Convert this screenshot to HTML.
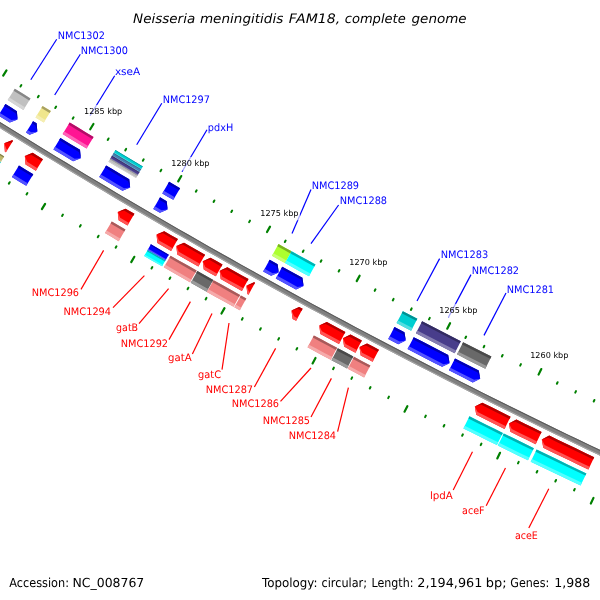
<!DOCTYPE html>
<html><head><meta charset="utf-8"><title>Neisseria meningitidis FAM18, complete genome</title>
<style>html,body{margin:0;padding:0;background:#fff}svg{display:block;will-change:transform}text{font-family:"DejaVu Sans","Liberation Sans",sans-serif;text-rendering:geometricPrecision}</style>
</head><body>
<svg width="600" height="600" viewBox="0 0 600 600">
<rect width="600" height="600" fill="#FFFFFF"/>
<polygon points="-25.39,106.04 -15.32,112.38 -5.23,118.69 4.87,124.99 14.98,131.27 25.10,137.52 35.24,143.76 45.38,149.97 55.54,156.16 65.72,162.34 75.90,168.49 86.10,174.63 96.31,180.74 106.53,186.83 116.76,192.91 127.01,198.96 137.26,204.99 147.53,211.00 157.82,216.99 168.11,222.96 178.41,228.91 188.73,234.84 199.06,240.75 209.40,246.64 219.75,252.51 230.12,258.35 240.49,264.18 250.88,269.98 261.28,275.77 271.69,281.53 282.11,287.28 292.54,293.00 302.99,298.70 313.44,304.38 323.91,310.04 334.39,315.68 344.88,321.30 355.38,326.90 365.89,332.47 376.42,338.03 386.95,343.57 397.50,349.08 408.05,354.57 418.62,360.04 429.20,365.49 439.78,370.92 450.38,376.33 460.99,381.72 471.62,387.09 482.25,392.43 492.89,397.75 503.54,403.06 514.21,408.34 524.88,413.60 535.56,418.84 546.26,424.05 556.96,429.25 567.68,434.43 578.40,439.58 589.14,444.71 599.89,449.82 610.64,454.91 621.41,459.98 632.19,465.03 629.99,469.74 619.20,464.69 608.42,459.61 597.66,454.52 586.90,449.40 576.16,444.27 565.42,439.11 554.70,433.93 543.98,428.73 533.28,423.51 522.59,418.26 511.90,413.00 501.23,407.71 490.57,402.41 479.92,397.08 469.28,391.73 458.64,386.36 448.03,380.97 437.42,375.55 426.82,370.12 416.23,364.66 405.66,359.19 395.09,353.69 384.54,348.17 373.99,342.63 363.46,337.07 352.94,331.49 342.43,325.89 331.93,320.26 321.44,314.62 310.97,308.95 300.50,303.27 290.05,297.56 279.61,291.83 269.18,286.09 258.76,280.32 248.35,274.53 237.95,268.72 227.57,262.88 217.19,257.03 206.83,251.16 196.48,245.27 186.14,239.35 175.82,233.42 165.50,227.46 155.20,221.49 144.91,215.49 134.63,209.47 124.37,203.44 114.11,197.38 103.87,191.30 93.64,185.20 83.42,179.09 73.22,172.95 63.02,166.79 52.84,160.61 42.67,154.41 32.52,148.19 22.37,141.95 12.24,135.69 2.12,129.41 -7.99,123.10 -18.08,116.78 -28.16,110.44" fill="#808080"/>
<polygon points="-25.39,106.04 -15.32,112.38 -5.23,118.69 4.87,124.99 14.98,131.27 25.10,137.52 35.24,143.76 45.38,149.97 55.54,156.16 65.72,162.34 75.90,168.49 86.10,174.63 96.31,180.74 106.53,186.83 116.76,192.91 127.01,198.96 137.26,204.99 147.53,211.00 157.82,216.99 168.11,222.96 178.41,228.91 188.73,234.84 199.06,240.75 209.40,246.64 219.75,252.51 230.12,258.35 240.49,264.18 250.88,269.98 261.28,275.77 271.69,281.53 282.11,287.28 292.54,293.00 302.99,298.70 313.44,304.38 323.91,310.04 334.39,315.68 344.88,321.30 355.38,326.90 365.89,332.47 376.42,338.03 386.95,343.57 397.50,349.08 408.05,354.57 418.62,360.04 429.20,365.49 439.78,370.92 450.38,376.33 460.99,381.72 471.62,387.09 482.25,392.43 492.89,397.75 503.54,403.06 514.21,408.34 524.88,413.60 535.56,418.84 546.26,424.05 556.96,429.25 567.68,434.43 578.40,439.58 589.14,444.71 599.89,449.82 610.64,454.91 621.41,459.98 632.19,465.03 631.76,465.93 620.98,460.88 610.22,455.82 599.46,450.73 588.71,445.61 577.97,440.48 567.25,435.33 556.53,430.15 545.82,424.95 535.12,419.74 524.44,414.50 513.76,409.23 503.10,403.95 492.44,398.65 481.80,393.32 471.17,387.98 460.54,382.61 449.93,377.22 439.33,371.81 428.74,366.38 418.16,360.93 407.59,355.46 397.03,349.97 386.49,344.45 375.95,338.92 365.43,333.36 354.91,327.78 344.41,322.18 333.92,316.56 323.44,310.92 312.97,305.26 302.51,299.58 292.06,293.88 281.63,288.15 271.21,282.41 260.79,276.64 250.39,270.86 240.00,265.05 229.63,259.22 219.26,253.38 208.91,247.51 198.56,241.62 188.23,235.71 177.92,229.78 167.61,223.83 157.31,217.86 147.03,211.86 136.76,205.85 126.50,199.82 116.25,193.77 106.02,187.69 95.79,181.60 85.58,175.48 75.38,169.35 65.20,163.19 55.02,157.02 44.86,150.82 34.71,144.61 24.58,138.37 14.45,132.12 4.34,125.84 -5.76,119.54 -15.85,113.23 -25.92,106.89" fill="#595959"/>
<polygon points="-27.58,109.51 -17.50,115.85 -7.40,122.17 2.70,128.47 12.82,134.75 22.95,141.01 33.09,147.25 43.25,153.47 53.41,159.67 63.59,165.85 73.78,172.00 83.99,178.14 94.20,184.26 104.43,190.36 114.67,196.43 124.93,202.49 135.19,208.53 145.47,214.54 155.75,220.54 166.06,226.51 176.37,232.46 186.69,238.40 197.03,244.31 207.38,250.20 217.74,256.07 228.11,261.93 238.49,267.76 248.88,273.57 259.29,279.35 269.71,285.12 280.14,290.87 290.58,296.60 301.03,302.30 311.49,307.99 321.97,313.65 332.45,319.29 342.95,324.92 353.46,330.52 363.98,336.10 374.51,341.66 385.05,347.20 395.60,352.71 406.16,358.21 416.74,363.69 427.32,369.14 437.92,374.57 448.52,379.99 459.14,385.38 469.77,390.75 480.41,396.10 491.06,401.42 501.72,406.73 512.39,412.01 523.07,417.28 533.76,422.52 544.46,427.74 555.18,432.94 565.90,438.12 576.63,443.28 587.38,448.41 598.13,453.53 608.89,458.62 619.67,463.69 630.45,468.74 629.99,469.74 619.20,464.69 608.42,459.61 597.66,454.52 586.90,449.40 576.16,444.27 565.42,439.11 554.70,433.93 543.98,428.73 533.28,423.51 522.59,418.26 511.90,413.00 501.23,407.71 490.57,402.41 479.92,397.08 469.28,391.73 458.64,386.36 448.03,380.97 437.42,375.55 426.82,370.12 416.23,364.66 405.66,359.19 395.09,353.69 384.54,348.17 373.99,342.63 363.46,337.07 352.94,331.49 342.43,325.89 331.93,320.26 321.44,314.62 310.97,308.95 300.50,303.27 290.05,297.56 279.61,291.83 269.18,286.09 258.76,280.32 248.35,274.53 237.95,268.72 227.57,262.88 217.19,257.03 206.83,251.16 196.48,245.27 186.14,239.35 175.82,233.42 165.50,227.46 155.20,221.49 144.91,215.49 134.63,209.47 124.37,203.44 114.11,197.38 103.87,191.30 93.64,185.20 83.42,179.09 73.22,172.95 63.02,166.79 52.84,160.61 42.67,154.41 32.52,148.19 22.37,141.95 12.24,135.69 2.12,129.41 -7.99,123.10 -18.08,116.78 -28.16,110.44" fill="#A6A6A6"/>
<polygon points="5.45,104.03 11.16,107.59 16.87,111.14 17.57,119.46 9.80,122.52 4.07,118.96 -1.65,115.39" fill="#0000FF"/>
<polygon points="5.45,104.03 11.16,107.59 16.87,111.14 17.57,119.46 15.60,113.18 9.89,109.62 4.18,106.06" fill="#0000B2"/>
<polygon points="-1.65,115.39 4.07,118.96 9.80,122.52 17.57,119.46 11.38,119.97 5.66,116.41 -0.06,112.85" fill="#5454FF"/>
<polygon points="33.05,121.16 36.61,123.36 37.35,131.67 29.59,134.77 26.02,132.56" fill="#0000FF"/>
<polygon points="33.05,121.16 36.61,123.36 37.35,131.67 35.36,125.40 31.79,123.20" fill="#0000B2"/>
<polygon points="26.02,132.56 29.59,134.77 37.35,131.67 31.16,132.21 27.59,130.01" fill="#5454FF"/>
<polygon points="60.41,137.93 70.20,143.89 80.00,149.83 80.81,158.14 73.07,161.29 63.25,155.35 53.43,149.38" fill="#0000FF"/>
<polygon points="60.41,137.93 70.20,143.89 80.00,149.83 80.81,158.14 78.76,151.88 68.95,145.94 59.16,139.98" fill="#0000B2"/>
<polygon points="53.43,149.38 63.25,155.35 73.07,161.29 80.81,158.14 74.62,158.73 64.80,152.78 54.99,146.81" fill="#5454FF"/>
<polygon points="106.14,165.53 113.84,170.12 121.55,174.71 129.27,179.28 130.16,187.58 122.45,190.81 114.72,186.23 106.99,181.64 99.27,177.03" fill="#0000FF"/>
<polygon points="106.14,165.53 113.84,170.12 121.55,174.71 129.27,179.28 130.16,187.58 128.05,181.34 120.33,176.77 112.62,172.19 104.91,167.59" fill="#0000B2"/>
<polygon points="99.27,177.03 106.99,181.64 114.72,186.23 122.45,190.81 130.16,187.58 123.98,188.23 116.25,183.65 108.52,179.06 100.81,174.46" fill="#5454FF"/>
<polygon points="160.04,197.34 166.67,201.20 167.61,209.50 159.93,212.79 153.29,208.92" fill="#0000FF"/>
<polygon points="160.04,197.34 166.67,201.20 167.61,209.50 165.46,203.28 158.83,199.41" fill="#0000B2"/>
<polygon points="153.29,208.92 159.93,212.79 167.61,209.50 161.44,210.19 154.80,206.32" fill="#5454FF"/>
<polygon points="269.69,259.73 277.62,264.13 278.74,272.40 271.13,275.86 263.18,271.45" fill="#0000FF"/>
<polygon points="269.69,259.73 277.62,264.13 278.74,272.40 276.46,266.23 268.52,261.83" fill="#0000B2"/>
<polygon points="263.18,271.45 271.13,275.86 278.74,272.40 272.58,273.23 264.64,268.83" fill="#5454FF"/>
<polygon points="282.24,266.68 292.32,272.24 302.42,277.77 303.58,286.04 295.99,289.52 285.87,283.98 275.76,278.42" fill="#0000FF"/>
<polygon points="282.24,266.68 292.32,272.24 302.42,277.77 303.58,286.04 301.26,279.87 291.17,274.34 281.08,268.78" fill="#0000B2"/>
<polygon points="275.76,278.42 285.87,283.98 295.99,289.52 303.58,286.04 297.43,286.89 287.31,281.35 277.21,275.79" fill="#5454FF"/>
<polygon points="394.48,327.08 404.46,332.30 405.78,340.54 398.26,344.17 388.26,338.94" fill="#0000FF"/>
<polygon points="394.48,327.08 404.46,332.30 405.78,340.54 403.35,334.42 393.36,329.20" fill="#0000B2"/>
<polygon points="388.26,338.94 398.26,344.17 405.78,340.54 399.64,341.52 389.65,336.29" fill="#5454FF"/>
<polygon points="413.74,337.13 422.34,341.59 430.95,346.04 439.57,350.47 448.19,354.89 449.58,363.13 442.09,366.82 433.45,362.39 424.81,357.95 416.18,353.49 407.56,349.02" fill="#0000FF"/>
<polygon points="413.74,337.13 422.34,341.59 430.95,346.04 439.57,350.47 448.19,354.89 449.58,363.13 447.10,357.03 438.47,352.61 429.85,348.17 421.24,343.72 412.63,339.26" fill="#0000B2"/>
<polygon points="407.56,349.02 416.18,353.49 424.81,357.95 433.45,362.39 442.09,366.82 449.58,363.13 443.46,364.15 434.82,359.72 426.18,355.28 417.56,350.83 408.94,346.36" fill="#5454FF"/>
<polygon points="455.03,358.38 462.93,362.41 470.84,366.42 478.76,370.42 480.20,378.64 472.72,382.38 464.79,378.37 456.86,374.35 448.94,370.32" fill="#0000FF"/>
<polygon points="455.03,358.38 462.93,362.41 470.84,366.42 478.76,370.42 480.20,378.64 477.68,372.56 469.76,368.56 461.84,364.55 453.94,360.52" fill="#0000B2"/>
<polygon points="448.94,370.32 456.86,374.35 464.79,378.37 472.72,382.38 480.20,378.64 474.07,379.70 466.14,375.70 458.22,371.68 450.30,367.65" fill="#5454FF"/>
<polygon points="14.82,88.65 22.66,93.54 30.51,98.42 23.39,109.89 15.52,105.00 7.67,100.10" fill="#C0C0C0"/>
<polygon points="14.82,88.65 22.66,93.54 30.51,98.42 29.23,100.47 21.38,95.59 13.54,90.70" fill="#868686"/>
<polygon points="9.27,97.54 17.12,102.44 24.98,107.32 23.39,109.89 15.52,105.00 7.67,100.10" fill="#D5D5D5"/>
<polygon points="42.59,105.89 50.88,111.00 43.81,122.50 35.50,117.38" fill="#F0E68C"/>
<polygon points="42.59,105.89 50.88,111.00 49.61,113.06 41.32,107.95" fill="#A8A162"/>
<polygon points="37.09,114.81 45.39,119.92 43.81,122.50 35.50,117.38" fill="#F5EEB2"/>
<polygon points="69.69,122.51 77.64,127.35 85.60,132.18 93.56,136.99 86.59,148.55 78.61,143.72 70.63,138.89 62.66,134.04" fill="#FF1493"/>
<polygon points="69.69,122.51 77.64,127.35 85.60,132.18 93.56,136.99 92.31,139.06 84.35,134.24 76.38,129.42 68.43,124.58" fill="#B20E67"/>
<polygon points="64.24,131.46 72.20,136.31 80.17,141.14 88.15,145.96 86.59,148.55 78.61,143.72 70.63,138.89 62.66,134.04" fill="#FF62B7"/>
<polygon points="115.37,150.08 124.53,155.54 133.70,160.98 142.88,166.41 141.16,169.31 131.98,163.88 122.80,158.44 113.64,152.97" fill="#00CED1"/>
<polygon points="115.37,150.08 124.53,155.54 133.70,160.98 142.88,166.41 142.57,166.93 133.39,161.50 124.22,156.06 115.06,150.60" fill="#009092"/>
<polygon points="114.03,152.33 123.19,157.79 132.36,163.23 141.55,168.66 141.16,169.31 131.98,163.88 122.80,158.44 113.64,152.97" fill="#54DEE0"/>
<polygon points="113.64,152.97 122.80,158.44 131.98,163.88 141.16,169.31 139.45,172.22 130.26,166.79 121.08,161.34 111.91,155.87" fill="#4682B4"/>
<polygon points="113.64,152.97 122.80,158.44 131.98,163.88 141.16,169.31 140.86,169.84 131.67,164.40 122.50,158.96 113.33,153.49" fill="#315B7E"/>
<polygon points="112.30,155.22 121.47,160.69 130.64,166.14 139.83,171.57 139.45,172.22 130.26,166.79 121.08,161.34 111.91,155.87" fill="#83ABCD"/>
<polygon points="111.91,155.87 121.08,161.34 130.26,166.79 139.45,172.22 137.73,175.13 128.54,169.69 119.35,164.24 110.18,158.77" fill="#483D8B"/>
<polygon points="111.91,155.87 121.08,161.34 130.26,166.79 139.45,172.22 139.14,172.74 129.95,167.31 120.77,161.86 111.60,156.39" fill="#322B61"/>
<polygon points="110.57,158.12 119.74,163.59 128.92,169.04 138.12,174.48 137.73,175.13 128.54,169.69 119.35,164.24 110.18,158.77" fill="#847DB1"/>
<polygon points="110.18,158.77 119.35,164.24 128.54,169.69 137.73,175.13 136.02,178.04 126.82,172.60 117.63,167.14 108.45,161.67" fill="#C0C0C0"/>
<polygon points="110.18,158.77 119.35,164.24 128.54,169.69 137.73,175.13 137.43,175.65 128.23,170.21 119.04,164.76 109.87,159.29" fill="#868686"/>
<polygon points="108.83,161.02 118.01,166.49 127.20,171.95 136.40,177.38 136.02,178.04 126.82,172.60 117.63,167.14 108.45,161.67" fill="#D5D5D5"/>
<polygon points="169.10,181.79 174.60,184.99 180.10,188.18 173.32,199.86 167.81,196.66 162.30,193.45" fill="#0000FF"/>
<polygon points="169.10,181.79 174.60,184.99 180.10,188.18 178.88,190.28 173.38,187.08 167.88,183.88" fill="#0000B2"/>
<polygon points="163.82,190.84 169.33,194.05 174.84,197.25 173.32,199.86 167.81,196.66 162.30,193.45" fill="#5454FF"/>
<polygon points="278.51,244.04 285.03,247.66 291.55,251.26 285.02,263.08 278.49,259.47 271.96,255.85" fill="#ADFF2F"/>
<polygon points="278.51,244.04 285.03,247.66 291.55,251.26 290.38,253.38 283.85,249.77 277.33,246.16" fill="#79B221"/>
<polygon points="273.42,253.21 279.95,256.82 286.49,260.43 285.02,263.08 278.49,259.47 271.96,255.85" fill="#C8FF74"/>
<polygon points="291.55,251.26 299.52,255.65 307.51,260.04 315.50,264.41 309.03,276.26 301.02,271.88 293.02,267.48 285.02,263.08" fill="#00FFFF"/>
<polygon points="291.55,251.26 299.52,255.65 307.51,260.04 315.50,264.41 314.34,266.53 306.35,262.16 298.36,257.77 290.38,253.38" fill="#00B2B2"/>
<polygon points="286.49,260.43 294.48,264.84 302.47,269.23 310.48,273.60 309.03,276.26 301.02,271.88 293.02,267.48 285.02,263.08" fill="#54FFFF"/>
<polygon points="402.84,311.13 410.10,314.94 417.37,318.73 411.13,330.70 403.85,326.90 396.57,323.09" fill="#00CED1"/>
<polygon points="402.84,311.13 410.10,314.94 417.37,318.73 416.25,320.87 408.98,317.08 401.71,313.28" fill="#009092"/>
<polygon points="397.97,320.41 405.25,324.22 412.53,328.02 411.13,330.70 403.85,326.90 396.57,323.09" fill="#54DEE0"/>
<polygon points="422.13,321.20 431.78,326.21 441.45,331.20 451.13,336.17 460.81,341.13 454.67,353.15 444.97,348.19 435.27,343.20 425.58,338.20 415.90,333.18" fill="#483D8B"/>
<polygon points="422.13,321.20 431.78,326.21 441.45,331.20 451.13,336.17 460.81,341.13 459.71,343.28 450.02,338.32 440.34,333.35 430.67,328.36 421.01,323.35" fill="#322B61"/>
<polygon points="417.29,330.50 426.97,335.52 436.65,340.52 446.35,345.50 456.05,350.46 454.67,353.15 444.97,348.19 435.27,343.20 425.58,338.20 415.90,333.18" fill="#847DB1"/>
<polygon points="463.11,342.30 472.53,347.09 481.95,351.87 491.39,356.62 485.32,368.68 475.86,363.91 466.42,359.13 456.98,354.33" fill="#696969"/>
<polygon points="463.11,342.30 472.53,347.09 481.95,351.87 491.39,356.62 490.30,358.78 480.86,354.02 471.43,349.25 462.02,344.46" fill="#4A4A4A"/>
<polygon points="458.35,351.64 467.79,356.44 477.23,361.22 486.68,365.98 485.32,368.68 475.86,363.91 466.42,359.13 456.98,354.33" fill="#9A9A9A"/>
<polygon points="13.06,140.78 12.04,140.15 4.20,143.30 4.89,151.72 5.91,152.35" fill="#FF0000"/>
<polygon points="13.06,140.78 12.04,140.15 4.20,143.30 10.76,142.22 11.78,142.85" fill="#B20000"/>
<polygon points="5.91,152.35 4.89,151.72 4.20,143.30 6.49,149.13 7.51,149.76" fill="#FF5454"/>
<polygon points="42.92,159.13 37.79,155.99 32.67,152.86 24.84,156.03 25.56,164.45 30.69,167.60 35.83,170.73" fill="#FF0000"/>
<polygon points="42.92,159.13 37.79,155.99 32.67,152.86 24.84,156.03 31.40,154.93 36.52,158.07 41.65,161.21" fill="#B20000"/>
<polygon points="35.83,170.73 30.69,167.60 25.56,164.45 24.84,156.03 27.15,161.86 32.28,165.00 37.42,168.14" fill="#FF5454"/>
<polygon points="134.41,213.86 125.52,208.64 117.75,211.96 118.62,220.36 127.53,225.60" fill="#FF0000"/>
<polygon points="134.41,213.86 125.52,208.64 117.75,211.96 124.28,210.74 133.18,215.96" fill="#B20000"/>
<polygon points="127.53,225.60 118.62,220.36 117.75,211.96 120.16,217.74 129.07,222.97" fill="#FF5454"/>
<polygon points="177.87,239.10 171.06,235.17 164.25,231.24 156.51,234.62 157.44,243.02 164.26,246.96 171.09,250.89" fill="#FF0000"/>
<polygon points="177.87,239.10 171.06,235.17 164.25,231.24 156.51,234.62 163.03,233.35 169.84,237.28 176.65,241.21" fill="#B20000"/>
<polygon points="171.09,250.89 164.26,246.96 157.44,243.02 156.51,234.62 158.97,240.38 165.78,244.32 172.61,248.25" fill="#FF5454"/>
<polygon points="205.07,254.64 198.05,250.65 191.04,246.65 184.03,242.64 176.30,246.04 177.27,254.43 184.29,258.46 191.32,262.47 198.35,266.47" fill="#FF0000"/>
<polygon points="205.07,254.64 198.05,250.65 191.04,246.65 184.03,242.64 176.30,246.04 182.82,244.75 189.83,248.76 196.85,252.77 203.87,256.76" fill="#B20000"/>
<polygon points="198.35,266.47 191.32,262.47 184.29,258.46 177.27,254.43 176.30,246.04 178.78,251.79 185.80,255.81 192.83,259.82 199.86,263.82" fill="#FF5454"/>
<polygon points="222.50,264.50 216.48,261.11 210.47,257.71 202.76,261.15 203.77,269.54 209.79,272.95 215.82,276.35" fill="#FF0000"/>
<polygon points="222.50,264.50 216.48,261.11 210.47,257.71 202.76,261.15 209.27,259.83 215.28,263.23 221.30,266.63" fill="#B20000"/>
<polygon points="215.82,276.35 209.79,272.95 203.77,269.54 202.76,261.15 205.27,266.89 211.29,270.30 217.31,273.70" fill="#FF5454"/>
<polygon points="248.52,279.09 241.47,275.15 234.42,271.21 227.38,267.26 219.68,270.72 220.72,279.11 227.77,283.07 234.84,287.03 241.90,290.97" fill="#FF0000"/>
<polygon points="248.52,279.09 241.47,275.15 234.42,271.21 227.38,267.26 219.68,270.72 226.19,269.38 233.23,273.33 240.28,277.28 247.34,281.22" fill="#B20000"/>
<polygon points="241.90,290.97 234.84,287.03 227.77,283.07 220.72,279.11 219.68,270.72 222.21,276.46 229.26,280.42 236.32,284.37 243.39,288.31" fill="#FF5454"/>
<polygon points="255.08,282.74 254.03,282.15 246.35,285.66 247.43,294.04 248.48,294.63" fill="#FF0000"/>
<polygon points="255.08,282.74 254.03,282.15 246.35,285.66 252.85,284.28 253.90,284.87" fill="#B20000"/>
<polygon points="248.48,294.63 247.43,294.04 246.35,285.66 248.91,291.38 249.96,291.97" fill="#FF5454"/>
<polygon points="302.64,308.87 299.12,306.96 291.47,310.53 292.61,318.90 296.14,320.82" fill="#FF0000"/>
<polygon points="302.64,308.87 299.12,306.96 291.47,310.53 297.95,309.09 301.47,311.01" fill="#B20000"/>
<polygon points="296.14,320.82 292.61,318.90 291.47,310.53 294.07,316.23 297.59,318.14" fill="#FF5454"/>
<polygon points="345.39,331.89 336.11,326.93 326.85,321.96 319.22,325.58 320.41,333.94 329.70,338.92 338.99,343.89" fill="#FF0000"/>
<polygon points="345.39,331.89 336.11,326.93 326.85,321.96 319.22,325.58 325.70,324.11 334.96,329.08 344.24,334.04" fill="#B20000"/>
<polygon points="338.99,343.89 329.70,338.92 320.41,333.94 319.22,325.58 321.85,331.26 331.13,336.24 340.42,341.20" fill="#FF5454"/>
<polygon points="361.83,340.62 356.17,337.62 350.51,334.61 342.89,338.26 344.12,346.62 349.79,349.63 355.47,352.64" fill="#FF0000"/>
<polygon points="361.83,340.62 356.17,337.62 350.51,334.61 342.89,338.26 349.37,336.77 355.03,339.77 360.69,342.77" fill="#B20000"/>
<polygon points="355.47,352.64 349.79,349.63 344.12,346.62 342.89,338.26 345.55,343.93 351.22,346.94 356.89,349.95" fill="#FF5454"/>
<polygon points="378.92,349.63 372.99,346.51 367.05,343.38 359.45,347.05 360.70,355.41 366.65,358.54 372.60,361.67" fill="#FF0000"/>
<polygon points="378.92,349.63 372.99,346.51 367.05,343.38 359.45,347.05 365.91,345.53 371.85,348.66 377.79,351.79" fill="#B20000"/>
<polygon points="372.60,361.67 366.65,358.54 360.70,355.41 359.45,347.05 362.12,352.71 368.07,355.85 374.02,358.98" fill="#FF5454"/>
<polygon points="510.58,416.70 501.16,412.03 491.75,407.35 482.34,402.66 474.82,406.49 476.26,414.82 485.68,419.53 495.12,424.22 504.56,428.89" fill="#FF0000"/>
<polygon points="510.58,416.70 501.16,412.03 491.75,407.35 482.34,402.66 474.82,406.49 481.25,404.84 490.66,409.53 500.08,414.22 509.50,418.88" fill="#B20000"/>
<polygon points="504.56,428.89 495.12,424.22 485.68,419.53 476.26,414.82 474.82,406.49 477.62,412.10 487.04,416.80 496.47,421.49 505.91,426.16" fill="#FF5454"/>
<polygon points="541.59,431.90 533.19,427.81 524.80,423.70 516.42,419.58 508.92,423.46 510.41,431.78 518.81,435.91 527.22,440.03 535.64,444.13" fill="#FF0000"/>
<polygon points="541.59,431.90 533.19,427.81 524.80,423.70 516.42,419.58 508.92,423.46 515.34,421.76 523.73,425.88 532.12,430.00 540.52,434.09" fill="#B20000"/>
<polygon points="535.64,444.13 527.22,440.03 518.81,435.91 510.41,431.78 508.92,423.46 511.75,429.04 520.15,433.17 528.56,437.29 536.97,441.39" fill="#FF5454"/>
<polygon points="594.19,457.19 585.19,452.91 576.19,448.61 567.20,444.29 558.22,439.97 549.24,435.62 541.77,439.55 543.31,447.86 552.30,452.21 561.31,456.55 570.32,460.87 579.33,465.18 588.36,469.48" fill="#FF0000"/>
<polygon points="594.19,457.19 585.19,452.91 576.19,448.61 567.20,444.29 558.22,439.97 549.24,435.62 541.77,439.55 548.18,437.81 557.16,442.16 566.15,446.49 575.14,450.81 584.14,455.11 593.15,459.39" fill="#B20000"/>
<polygon points="588.36,469.48 579.33,465.18 570.32,460.87 561.31,456.55 552.30,452.21 543.31,447.86 541.77,439.55 544.64,445.12 553.63,449.47 562.63,453.81 571.63,458.13 580.64,462.44 589.66,466.73" fill="#FF5454"/>
<polygon points="-1.70,152.81 4.19,156.46 0.64,162.20 -5.25,158.55" fill="#BDB76B"/>
<polygon points="-1.70,152.81 4.19,156.46 3.56,157.49 -2.33,153.84" fill="#84804B"/>
<polygon points="-4.46,157.27 1.44,160.92 0.64,162.20 -5.25,158.55" fill="#D3CF9C"/>
<polygon points="-5.25,158.55 0.64,162.20 -2.91,167.94 -8.81,164.29" fill="#00FFFF"/>
<polygon points="-5.25,158.55 0.64,162.20 0.01,163.23 -5.89,159.58" fill="#00B2B2"/>
<polygon points="-8.01,163.00 -2.11,166.66 -2.91,167.94 -8.81,164.29" fill="#54FFFF"/>
<polygon points="18.98,165.58 26.13,169.96 33.28,174.33 26.25,185.86 19.08,181.47 11.91,177.08" fill="#0000FF"/>
<polygon points="18.98,165.58 26.13,169.96 33.28,174.33 32.02,176.40 24.87,172.02 17.72,167.64" fill="#0000B2"/>
<polygon points="13.50,174.50 20.66,178.89 27.82,183.28 26.25,185.86 19.08,181.47 11.91,177.08" fill="#5454FF"/>
<polygon points="111.80,221.45 118.64,225.48 125.48,229.49 118.65,241.14 111.79,237.11 104.94,233.08" fill="#F08080"/>
<polygon points="111.80,221.45 118.64,225.48 125.48,229.49 124.25,231.58 117.41,227.56 110.57,223.53" fill="#A85A5A"/>
<polygon points="106.48,230.48 113.33,234.51 120.18,238.53 118.65,241.14 111.79,237.11 104.94,233.08" fill="#F5AAAA"/>
<polygon points="150.89,244.31 159.85,249.49 168.81,254.65 165.44,260.50 156.47,255.33 147.51,250.15" fill="#0000FF"/>
<polygon points="150.89,244.31 159.85,249.49 168.81,254.65 168.21,255.70 159.24,250.53 150.29,245.35" fill="#0000B2"/>
<polygon points="148.27,248.84 157.23,254.02 166.20,259.19 165.44,260.50 156.47,255.33 147.51,250.15" fill="#5454FF"/>
<polygon points="147.51,250.15 156.47,255.33 165.44,260.50 162.08,266.35 153.10,261.18 144.12,255.99" fill="#00FFFF"/>
<polygon points="147.51,250.15 156.47,255.33 165.44,260.50 164.84,261.55 155.87,256.38 146.90,251.19" fill="#00B2B2"/>
<polygon points="144.88,254.68 153.85,259.87 162.83,265.04 162.08,266.35 153.10,261.18 144.12,255.99" fill="#54FFFF"/>
<polygon points="170.55,255.65 179.23,260.63 187.92,265.59 196.62,270.54 189.95,282.28 181.23,277.32 172.52,272.35 163.82,267.36" fill="#F08080"/>
<polygon points="170.55,255.65 179.23,260.63 187.92,265.59 196.62,270.54 195.42,272.65 186.72,267.69 178.03,262.73 169.34,257.75" fill="#A85A5A"/>
<polygon points="165.33,264.74 174.03,269.72 182.73,274.70 191.44,279.65 189.95,282.28 181.23,277.32 172.52,272.35 163.82,267.36" fill="#F5AAAA"/>
<polygon points="197.40,270.99 205.35,275.50 213.31,279.99 206.68,291.75 198.71,287.25 190.74,282.73" fill="#696969"/>
<polygon points="197.40,270.99 205.35,275.50 213.31,279.99 212.12,282.09 204.16,277.60 196.21,273.09" fill="#4A4A4A"/>
<polygon points="192.23,280.10 200.19,284.61 208.16,289.12 206.68,291.75 198.71,287.25 190.74,282.73" fill="#9A9A9A"/>
<polygon points="213.57,280.14 222.41,285.11 231.26,290.07 240.11,295.01 233.54,306.80 224.67,301.85 215.80,296.88 206.94,291.90" fill="#F08080"/>
<polygon points="213.57,280.14 222.41,285.11 231.26,290.07 240.11,295.01 238.94,297.12 230.08,292.18 221.23,287.22 212.38,282.24" fill="#A85A5A"/>
<polygon points="208.43,289.26 217.28,294.24 226.14,299.21 235.01,304.16 233.54,306.80 224.67,301.85 215.80,296.88 206.94,291.90" fill="#F5AAAA"/>
<polygon points="240.90,295.45 246.34,298.47 239.79,310.28 234.34,307.24" fill="#F08080"/>
<polygon points="240.90,295.45 246.34,298.47 245.17,300.59 239.73,297.56" fill="#A85A5A"/>
<polygon points="235.81,304.60 241.26,307.63 239.79,310.28 234.34,307.24" fill="#F5AAAA"/>
<polygon points="313.91,335.44 321.63,339.59 329.36,343.73 337.09,347.86 330.74,359.78 322.99,355.64 315.24,351.48 307.50,347.32" fill="#F08080"/>
<polygon points="313.91,335.44 321.63,339.59 329.36,343.73 337.09,347.86 335.96,350.00 328.22,345.86 320.49,341.72 312.76,337.57" fill="#A85A5A"/>
<polygon points="308.94,344.66 316.67,348.82 324.42,352.97 332.17,357.11 330.74,359.78 322.99,355.64 315.24,351.48 307.50,347.32" fill="#F5AAAA"/>
<polygon points="337.80,348.24 345.56,352.37 353.32,356.48 347.01,368.42 339.23,364.29 331.45,360.16" fill="#696969"/>
<polygon points="337.80,348.24 345.56,352.37 353.32,356.48 352.19,358.62 344.43,354.50 336.67,350.38" fill="#4A4A4A"/>
<polygon points="332.88,357.49 340.65,361.62 348.42,365.74 347.01,368.42 339.23,364.29 331.45,360.16" fill="#9A9A9A"/>
<polygon points="354.03,356.86 362.20,361.17 370.38,365.47 364.10,377.43 355.91,373.12 347.72,368.79" fill="#F08080"/>
<polygon points="354.03,356.86 362.20,361.17 370.38,365.47 369.25,367.61 361.07,363.31 352.90,359.00" fill="#A85A5A"/>
<polygon points="349.13,366.12 357.32,370.44 365.51,374.75 364.10,377.43 355.91,373.12 347.72,368.79" fill="#F5AAAA"/>
<polygon points="469.44,416.32 477.79,420.51 486.15,424.67 494.51,428.83 502.88,432.97 496.90,445.07 488.51,440.92 480.13,436.76 471.76,432.58 463.39,428.39" fill="#00FFFF"/>
<polygon points="469.44,416.32 477.79,420.51 486.15,424.67 494.51,428.83 502.88,432.97 501.81,435.14 493.44,430.99 485.07,426.84 476.71,422.67 468.36,418.49" fill="#00B2B2"/>
<polygon points="464.74,425.69 473.11,429.88 481.48,434.05 489.86,438.21 498.24,442.36 496.90,445.07 488.51,440.92 480.13,436.76 471.76,432.58 463.39,428.39" fill="#54FFFF"/>
<polygon points="503.78,433.41 513.81,438.35 523.85,443.27 533.89,448.18 527.98,460.31 517.92,455.40 507.85,450.47 497.80,445.52" fill="#00FFFF"/>
<polygon points="503.78,433.41 513.81,438.35 523.85,443.27 533.89,448.18 532.83,450.35 522.78,445.45 512.74,440.52 502.71,435.58" fill="#00B2B2"/>
<polygon points="499.14,442.81 509.19,447.76 519.24,452.69 529.31,457.60 527.98,460.31 517.92,455.40 507.85,450.47 497.80,445.52" fill="#54FFFF"/>
<polygon points="536.60,449.49 546.54,454.31 556.49,459.11 566.44,463.90 576.41,468.66 586.38,473.41 580.59,485.60 570.59,480.85 560.61,476.07 550.63,471.28 540.66,466.47 530.70,461.63" fill="#00FFFF"/>
<polygon points="536.60,449.49 546.54,454.31 556.49,459.11 566.44,463.90 576.41,468.66 586.38,473.41 585.34,475.59 575.37,470.84 565.40,466.08 555.44,461.29 545.49,456.49 535.54,451.67" fill="#00B2B2"/>
<polygon points="532.02,458.92 541.98,463.74 551.94,468.55 561.91,473.35 571.90,478.12 581.89,482.87 580.59,485.60 570.59,480.85 560.61,476.07 550.63,471.28 540.66,466.47 530.70,461.63" fill="#54FFFF"/>
<line x1="-14.15" y1="64.76" x2="-13.24" y2="63.33" stroke="#008000" stroke-width="2.0" stroke-linecap="round"/>
<line x1="-60.70" y1="138.26" x2="-61.61" y2="139.70" stroke="#008000" stroke-width="2.0" stroke-linecap="round"/>
<line x1="3.20" y1="75.59" x2="6.49" y2="70.34" stroke="#008000" stroke-width="2.2" stroke-linecap="round"/>
<line x1="-43.21" y1="149.42" x2="-46.51" y2="154.67" stroke="#008000" stroke-width="2.2" stroke-linecap="round"/>
<line x1="20.48" y1="86.53" x2="21.37" y2="85.08" stroke="#008000" stroke-width="2.0" stroke-linecap="round"/>
<line x1="-25.57" y1="160.35" x2="-26.47" y2="161.79" stroke="#008000" stroke-width="2.0" stroke-linecap="round"/>
<line x1="37.85" y1="97.32" x2="38.74" y2="95.87" stroke="#008000" stroke-width="2.0" stroke-linecap="round"/>
<line x1="-7.94" y1="171.30" x2="-8.84" y2="172.74" stroke="#008000" stroke-width="2.0" stroke-linecap="round"/>
<line x1="55.25" y1="108.05" x2="56.14" y2="106.60" stroke="#008000" stroke-width="2.0" stroke-linecap="round"/>
<line x1="9.72" y1="182.19" x2="8.83" y2="183.64" stroke="#008000" stroke-width="2.0" stroke-linecap="round"/>
<line x1="72.70" y1="118.72" x2="73.58" y2="117.27" stroke="#008000" stroke-width="2.0" stroke-linecap="round"/>
<line x1="27.42" y1="193.02" x2="26.54" y2="194.47" stroke="#008000" stroke-width="2.0" stroke-linecap="round"/>
<line x1="90.23" y1="129.25" x2="93.44" y2="123.95" stroke="#008000" stroke-width="2.2" stroke-linecap="round"/>
<line x1="45.11" y1="203.87" x2="41.90" y2="209.17" stroke="#008000" stroke-width="2.2" stroke-linecap="round"/>
<line x1="107.70" y1="139.89" x2="108.57" y2="138.43" stroke="#008000" stroke-width="2.0" stroke-linecap="round"/>
<line x1="62.93" y1="214.49" x2="62.06" y2="215.95" stroke="#008000" stroke-width="2.0" stroke-linecap="round"/>
<line x1="125.25" y1="150.38" x2="126.12" y2="148.92" stroke="#008000" stroke-width="2.0" stroke-linecap="round"/>
<line x1="80.75" y1="225.14" x2="79.88" y2="226.60" stroke="#008000" stroke-width="2.0" stroke-linecap="round"/>
<line x1="142.84" y1="160.81" x2="143.70" y2="159.35" stroke="#008000" stroke-width="2.0" stroke-linecap="round"/>
<line x1="98.59" y1="235.72" x2="97.73" y2="237.18" stroke="#008000" stroke-width="2.0" stroke-linecap="round"/>
<line x1="160.47" y1="171.18" x2="161.32" y2="169.71" stroke="#008000" stroke-width="2.0" stroke-linecap="round"/>
<line x1="116.48" y1="246.24" x2="115.62" y2="247.71" stroke="#008000" stroke-width="2.0" stroke-linecap="round"/>
<line x1="178.18" y1="181.40" x2="181.29" y2="176.04" stroke="#008000" stroke-width="2.2" stroke-linecap="round"/>
<line x1="134.35" y1="256.79" x2="131.23" y2="262.15" stroke="#008000" stroke-width="2.2" stroke-linecap="round"/>
<line x1="195.82" y1="191.74" x2="196.67" y2="190.27" stroke="#008000" stroke-width="2.0" stroke-linecap="round"/>
<line x1="152.35" y1="267.10" x2="151.50" y2="268.57" stroke="#008000" stroke-width="2.0" stroke-linecap="round"/>
<line x1="213.56" y1="201.93" x2="214.40" y2="200.45" stroke="#008000" stroke-width="2.0" stroke-linecap="round"/>
<line x1="170.35" y1="277.44" x2="169.50" y2="278.91" stroke="#008000" stroke-width="2.0" stroke-linecap="round"/>
<line x1="231.32" y1="212.05" x2="232.16" y2="210.57" stroke="#008000" stroke-width="2.0" stroke-linecap="round"/>
<line x1="188.37" y1="287.71" x2="187.53" y2="289.19" stroke="#008000" stroke-width="2.0" stroke-linecap="round"/>
<line x1="249.12" y1="222.12" x2="249.96" y2="220.64" stroke="#008000" stroke-width="2.0" stroke-linecap="round"/>
<line x1="206.44" y1="297.92" x2="205.60" y2="299.41" stroke="#008000" stroke-width="2.0" stroke-linecap="round"/>
<line x1="267.01" y1="232.03" x2="270.03" y2="226.62" stroke="#008000" stroke-width="2.2" stroke-linecap="round"/>
<line x1="224.49" y1="308.16" x2="221.46" y2="313.57" stroke="#008000" stroke-width="2.2" stroke-linecap="round"/>
<line x1="284.83" y1="242.06" x2="285.65" y2="240.58" stroke="#008000" stroke-width="2.0" stroke-linecap="round"/>
<line x1="242.67" y1="318.16" x2="241.84" y2="319.65" stroke="#008000" stroke-width="2.0" stroke-linecap="round"/>
<line x1="302.74" y1="251.94" x2="303.55" y2="250.45" stroke="#008000" stroke-width="2.0" stroke-linecap="round"/>
<line x1="260.83" y1="328.19" x2="260.02" y2="329.68" stroke="#008000" stroke-width="2.0" stroke-linecap="round"/>
<line x1="320.67" y1="261.76" x2="321.49" y2="260.27" stroke="#008000" stroke-width="2.0" stroke-linecap="round"/>
<line x1="279.04" y1="338.15" x2="278.22" y2="339.64" stroke="#008000" stroke-width="2.0" stroke-linecap="round"/>
<line x1="338.65" y1="271.52" x2="339.46" y2="270.02" stroke="#008000" stroke-width="2.0" stroke-linecap="round"/>
<line x1="297.27" y1="348.05" x2="296.46" y2="349.54" stroke="#008000" stroke-width="2.0" stroke-linecap="round"/>
<line x1="356.70" y1="281.12" x2="359.63" y2="275.66" stroke="#008000" stroke-width="2.2" stroke-linecap="round"/>
<line x1="315.50" y1="357.97" x2="312.57" y2="363.44" stroke="#008000" stroke-width="2.2" stroke-linecap="round"/>
<line x1="374.69" y1="290.84" x2="375.49" y2="289.34" stroke="#008000" stroke-width="2.0" stroke-linecap="round"/>
<line x1="333.85" y1="367.66" x2="333.05" y2="369.16" stroke="#008000" stroke-width="2.0" stroke-linecap="round"/>
<line x1="392.77" y1="300.41" x2="393.56" y2="298.91" stroke="#008000" stroke-width="2.0" stroke-linecap="round"/>
<line x1="352.18" y1="377.37" x2="351.39" y2="378.87" stroke="#008000" stroke-width="2.0" stroke-linecap="round"/>
<line x1="410.87" y1="309.92" x2="411.66" y2="308.42" stroke="#008000" stroke-width="2.0" stroke-linecap="round"/>
<line x1="370.55" y1="387.02" x2="369.77" y2="388.52" stroke="#008000" stroke-width="2.0" stroke-linecap="round"/>
<line x1="429.01" y1="319.37" x2="429.79" y2="317.86" stroke="#008000" stroke-width="2.0" stroke-linecap="round"/>
<line x1="388.96" y1="396.60" x2="388.18" y2="398.11" stroke="#008000" stroke-width="2.0" stroke-linecap="round"/>
<line x1="447.23" y1="328.66" x2="450.06" y2="323.15" stroke="#008000" stroke-width="2.2" stroke-linecap="round"/>
<line x1="407.35" y1="406.21" x2="404.51" y2="411.72" stroke="#008000" stroke-width="2.2" stroke-linecap="round"/>
<line x1="465.38" y1="338.07" x2="466.15" y2="336.56" stroke="#008000" stroke-width="2.0" stroke-linecap="round"/>
<line x1="425.87" y1="415.58" x2="425.09" y2="417.09" stroke="#008000" stroke-width="2.0" stroke-linecap="round"/>
<line x1="483.62" y1="347.33" x2="484.38" y2="345.81" stroke="#008000" stroke-width="2.0" stroke-linecap="round"/>
<line x1="444.37" y1="424.97" x2="443.60" y2="426.49" stroke="#008000" stroke-width="2.0" stroke-linecap="round"/>
<line x1="501.88" y1="356.52" x2="502.65" y2="355.00" stroke="#008000" stroke-width="2.0" stroke-linecap="round"/>
<line x1="462.90" y1="434.30" x2="462.14" y2="435.82" stroke="#008000" stroke-width="2.0" stroke-linecap="round"/>
<line x1="520.18" y1="365.65" x2="520.94" y2="364.13" stroke="#008000" stroke-width="2.0" stroke-linecap="round"/>
<line x1="481.47" y1="443.57" x2="480.71" y2="445.09" stroke="#008000" stroke-width="2.0" stroke-linecap="round"/>
<line x1="538.56" y1="374.63" x2="541.29" y2="369.07" stroke="#008000" stroke-width="2.2" stroke-linecap="round"/>
<line x1="500.02" y1="452.86" x2="497.28" y2="458.42" stroke="#008000" stroke-width="2.2" stroke-linecap="round"/>
<line x1="556.87" y1="383.73" x2="557.62" y2="382.20" stroke="#008000" stroke-width="2.0" stroke-linecap="round"/>
<line x1="518.70" y1="461.90" x2="517.95" y2="463.43" stroke="#008000" stroke-width="2.0" stroke-linecap="round"/>
<line x1="575.26" y1="392.67" x2="576.00" y2="391.14" stroke="#008000" stroke-width="2.0" stroke-linecap="round"/>
<line x1="537.36" y1="470.98" x2="536.62" y2="472.51" stroke="#008000" stroke-width="2.0" stroke-linecap="round"/>
<line x1="593.69" y1="401.55" x2="594.42" y2="400.01" stroke="#008000" stroke-width="2.0" stroke-linecap="round"/>
<line x1="556.05" y1="479.99" x2="555.31" y2="481.52" stroke="#008000" stroke-width="2.0" stroke-linecap="round"/>
<line x1="612.14" y1="410.36" x2="612.87" y2="408.83" stroke="#008000" stroke-width="2.0" stroke-linecap="round"/>
<line x1="574.77" y1="488.93" x2="574.04" y2="490.46" stroke="#008000" stroke-width="2.0" stroke-linecap="round"/>
<line x1="630.66" y1="419.02" x2="633.31" y2="413.41" stroke="#008000" stroke-width="2.2" stroke-linecap="round"/>
<line x1="593.49" y1="497.90" x2="590.84" y2="503.51" stroke="#008000" stroke-width="2.2" stroke-linecap="round"/>
<line x1="649.13" y1="427.80" x2="649.85" y2="426.26" stroke="#008000" stroke-width="2.0" stroke-linecap="round"/>
<line x1="612.31" y1="506.62" x2="611.59" y2="508.16" stroke="#008000" stroke-width="2.0" stroke-linecap="round"/>
<line x1="667.68" y1="436.42" x2="668.39" y2="434.88" stroke="#008000" stroke-width="2.0" stroke-linecap="round"/>
<line x1="631.13" y1="515.37" x2="630.41" y2="516.92" stroke="#008000" stroke-width="2.0" stroke-linecap="round"/>
<line x1="686.25" y1="444.98" x2="686.96" y2="443.44" stroke="#008000" stroke-width="2.0" stroke-linecap="round"/>
<line x1="649.97" y1="524.06" x2="649.26" y2="525.60" stroke="#008000" stroke-width="2.0" stroke-linecap="round"/>
<line x1="30.8" y1="79.7" x2="56.7" y2="39.2" stroke="#0000FF" stroke-width="1.2"/>
<line x1="54.7" y1="95.0" x2="80.3" y2="54.2" stroke="#0000FF" stroke-width="1.2"/>
<line x1="90.0" y1="115.8" x2="114.7" y2="75.8" stroke="#0000FF" stroke-width="1.2"/>
<line x1="136.7" y1="144.7" x2="161.8" y2="103.2" stroke="#0000FF" stroke-width="1.2"/>
<line x1="182.0" y1="171.7" x2="207.0" y2="129.7" stroke="#0000FF" stroke-width="1.2"/>
<line x1="292.0" y1="233.6" x2="311.0" y2="189.4" stroke="#0000FF" stroke-width="1.2"/>
<line x1="311.0" y1="243.6" x2="338.6" y2="205.0" stroke="#0000FF" stroke-width="1.2"/>
<line x1="417.0" y1="301.0" x2="439.6" y2="258.6" stroke="#0000FF" stroke-width="1.2"/>
<line x1="448.4" y1="317.4" x2="471.0" y2="274.6" stroke="#0000FF" stroke-width="1.2"/>
<line x1="484.0" y1="335.4" x2="506.0" y2="293.0" stroke="#0000FF" stroke-width="1.2"/>
<line x1="103.6" y1="250.4" x2="81.0" y2="289.4" stroke="#FF0000" stroke-width="1.2"/>
<line x1="144.4" y1="275.6" x2="113.0" y2="307.6" stroke="#FF0000" stroke-width="1.2"/>
<line x1="168.6" y1="288.6" x2="139.0" y2="323.6" stroke="#FF0000" stroke-width="1.2"/>
<line x1="190.4" y1="301.6" x2="169.0" y2="339.6" stroke="#FF0000" stroke-width="1.2"/>
<line x1="212.0" y1="313.6" x2="192.4" y2="354.0" stroke="#FF0000" stroke-width="1.2"/>
<line x1="229.0" y1="323.0" x2="222.0" y2="369.6" stroke="#FF0000" stroke-width="1.2"/>
<line x1="275.6" y1="348.4" x2="254.4" y2="387.0" stroke="#FF0000" stroke-width="1.2"/>
<line x1="311.0" y1="368.0" x2="280.5" y2="401.3" stroke="#FF0000" stroke-width="1.2"/>
<line x1="331.4" y1="378.4" x2="311.0" y2="417.0" stroke="#FF0000" stroke-width="1.2"/>
<line x1="348.4" y1="387.6" x2="337.6" y2="431.6" stroke="#FF0000" stroke-width="1.2"/>
<line x1="472.5" y1="451.8" x2="453.2" y2="490.0" stroke="#FF0000" stroke-width="1.2"/>
<line x1="505.5" y1="468.0" x2="486.2" y2="505.8" stroke="#FF0000" stroke-width="1.2"/>
<line x1="548.8" y1="488.8" x2="528.8" y2="528.0" stroke="#FF0000" stroke-width="1.2"/>
<g>
<text x="57.8" y="39.0" font-size="10.30" fill="#0000FF" textLength="47.1" lengthAdjust="spacingAndGlyphs">NMC1302</text>
<text x="80.7" y="54.0" font-size="10.30" fill="#0000FF" textLength="47.2" lengthAdjust="spacingAndGlyphs">NMC1300</text>
<text x="114.9" y="75.0" font-size="10.30" fill="#0000FF" textLength="25.3" lengthAdjust="spacingAndGlyphs">xseA</text>
<text x="162.8" y="103.0" font-size="10.30" fill="#0000FF" textLength="47.1" lengthAdjust="spacingAndGlyphs">NMC1297</text>
<text x="207.8" y="131.0" font-size="10.30" fill="#0000FF" textLength="25.4" lengthAdjust="spacingAndGlyphs">pdxH</text>
<text x="311.7" y="189.0" font-size="10.30" fill="#0000FF" textLength="47.4" lengthAdjust="spacingAndGlyphs">NMC1289</text>
<text x="339.7" y="204.0" font-size="10.30" fill="#0000FF" textLength="47.4" lengthAdjust="spacingAndGlyphs">NMC1288</text>
<text x="440.7" y="258.0" font-size="10.30" fill="#0000FF" textLength="47.6" lengthAdjust="spacingAndGlyphs">NMC1283</text>
<text x="471.7" y="274.0" font-size="10.30" fill="#0000FF" textLength="47.4" lengthAdjust="spacingAndGlyphs">NMC1282</text>
<text x="506.7" y="293.0" font-size="10.30" fill="#0000FF" textLength="47.4" lengthAdjust="spacingAndGlyphs">NMC1281</text>
<text x="31.7" y="296.0" font-size="10.30" fill="#FF0000" textLength="47.4" lengthAdjust="spacingAndGlyphs">NMC1296</text>
<text x="63.5" y="315.0" font-size="10.30" fill="#FF0000" textLength="47.6" lengthAdjust="spacingAndGlyphs">NMC1294</text>
<text x="116.1" y="331.0" font-size="10.30" fill="#FF0000" textLength="22.0" lengthAdjust="spacingAndGlyphs">gatB</text>
<text x="120.7" y="347.0" font-size="10.30" fill="#FF0000" textLength="47.4" lengthAdjust="spacingAndGlyphs">NMC1292</text>
<text x="168.1" y="361.0" font-size="10.30" fill="#FF0000" textLength="23.6" lengthAdjust="spacingAndGlyphs">gatA</text>
<text x="198.1" y="378.0" font-size="10.30" fill="#FF0000" textLength="23.0" lengthAdjust="spacingAndGlyphs">gatC</text>
<text x="205.7" y="393.0" font-size="10.30" fill="#FF0000" textLength="47.4" lengthAdjust="spacingAndGlyphs">NMC1287</text>
<text x="231.7" y="407.0" font-size="10.30" fill="#FF0000" textLength="47.4" lengthAdjust="spacingAndGlyphs">NMC1286</text>
<text x="262.7" y="424.0" font-size="10.30" fill="#FF0000" textLength="47.4" lengthAdjust="spacingAndGlyphs">NMC1285</text>
<text x="288.7" y="439.0" font-size="10.30" fill="#FF0000" textLength="47.4" lengthAdjust="spacingAndGlyphs">NMC1284</text>
<text x="429.9" y="499.0" font-size="10.30" fill="#FF0000" textLength="22.9" lengthAdjust="spacingAndGlyphs">lpdA</text>
<text x="462.1" y="514.0" font-size="10.30" fill="#FF0000" textLength="22.4" lengthAdjust="spacingAndGlyphs">aceF</text>
<text x="514.9" y="539.0" font-size="10.30" fill="#FF0000" textLength="22.9" lengthAdjust="spacingAndGlyphs">aceE</text>
<rect x="82.7" y="105.0" width="41.0" height="13.5" fill="#FFFFFF" fill-opacity="0.65"/>
<text x="84.0" y="113.8" font-size="8.20" fill="#000000" textLength="38.2" lengthAdjust="spacingAndGlyphs">1285 kbp</text>
<rect x="170.0" y="157.0" width="41.0" height="13.5" fill="#FFFFFF" fill-opacity="0.65"/>
<text x="171.3" y="165.8" font-size="8.20" fill="#000000" textLength="38.2" lengthAdjust="spacingAndGlyphs">1280 kbp</text>
<rect x="259.0" y="206.8" width="41.0" height="13.5" fill="#FFFFFF" fill-opacity="0.65"/>
<text x="260.3" y="215.6" font-size="8.20" fill="#000000" textLength="38.2" lengthAdjust="spacingAndGlyphs">1275 kbp</text>
<rect x="348.0" y="255.8" width="41.0" height="13.5" fill="#FFFFFF" fill-opacity="0.65"/>
<text x="349.3" y="264.6" font-size="8.20" fill="#000000" textLength="38.2" lengthAdjust="spacingAndGlyphs">1270 kbp</text>
<rect x="438.0" y="303.8" width="41.0" height="13.5" fill="#FFFFFF" fill-opacity="0.65"/>
<text x="439.3" y="312.6" font-size="8.20" fill="#000000" textLength="38.2" lengthAdjust="spacingAndGlyphs">1265 kbp</text>
<rect x="528.9" y="348.9" width="41.0" height="13.5" fill="#FFFFFF" fill-opacity="0.65"/>
<text x="530.2" y="357.7" font-size="8.20" fill="#000000" textLength="38.2" lengthAdjust="spacingAndGlyphs">1260 kbp</text>
<text y="23" font-size="13.00" fill="#000000" font-style="italic"><tspan x="133.06" textLength="62.17" lengthAdjust="spacingAndGlyphs">Neisseria</tspan> <tspan x="199.90" textLength="83.40" lengthAdjust="spacingAndGlyphs">meningitidis</tspan> <tspan x="288.77" textLength="51.43" lengthAdjust="spacingAndGlyphs">FAM18,</tspan> <tspan x="344.72" textLength="61.02" lengthAdjust="spacingAndGlyphs">complete</tspan> <tspan x="411.51" textLength="55.17" lengthAdjust="spacingAndGlyphs">genome</tspan></text>
<text y="587" font-size="12.40" fill="#000000"><tspan x="9.18" textLength="59.81" lengthAdjust="spacingAndGlyphs">Accession:</tspan> <tspan x="72.51" textLength="71.76" lengthAdjust="spacingAndGlyphs">NC_008767</tspan></text>
<text y="587" font-size="12.40" fill="#000000"><tspan x="262.02" textLength="55.48" lengthAdjust="spacingAndGlyphs">Topology:</tspan> <tspan x="321.54" textLength="45.47" lengthAdjust="spacingAndGlyphs">circular;</tspan> <tspan x="371.49" textLength="41.95" lengthAdjust="spacingAndGlyphs">Length:</tspan> <tspan x="417.30" textLength="65.02" lengthAdjust="spacingAndGlyphs">2,194,961</tspan> <tspan x="485.74" textLength="20.76" lengthAdjust="spacingAndGlyphs">bp;</tspan> <tspan x="510.34" textLength="38.88" lengthAdjust="spacingAndGlyphs">Genes:</tspan> <tspan x="554.37" textLength="35.93" lengthAdjust="spacingAndGlyphs">1,988</tspan></text>
</g>
</svg>
</body></html>
